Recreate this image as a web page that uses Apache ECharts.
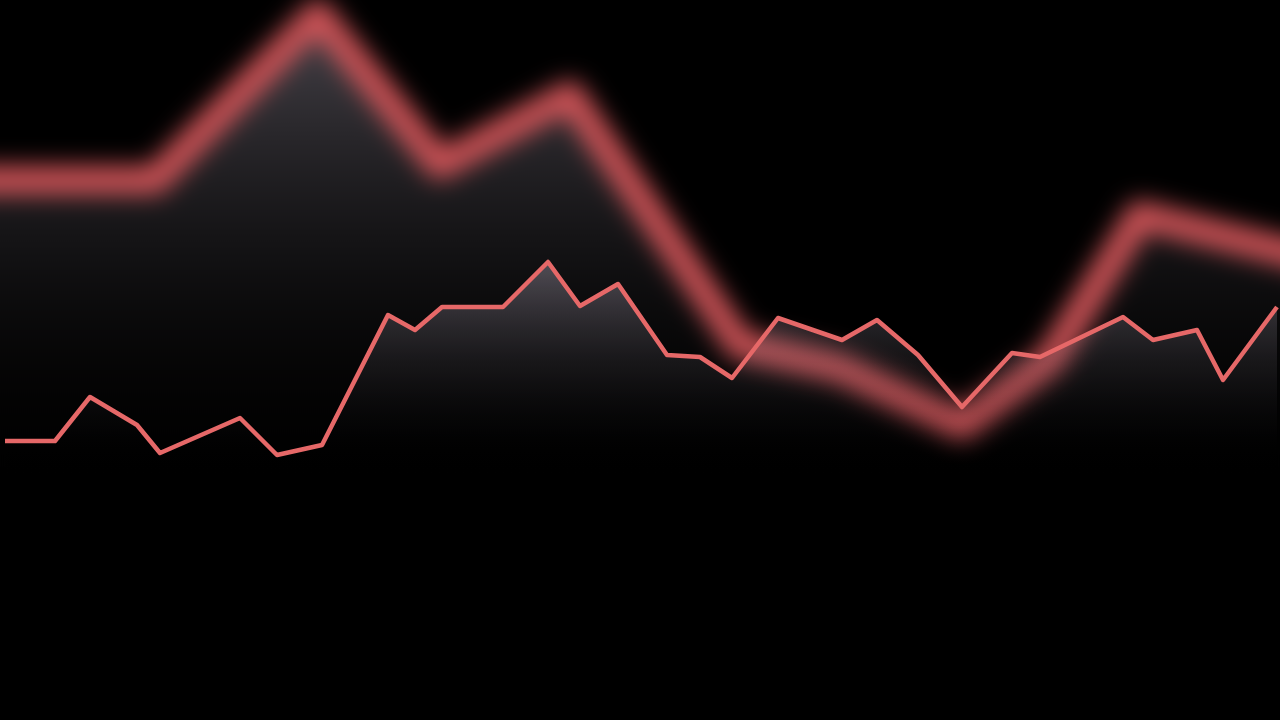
<!DOCTYPE html>
<html>
<head>
<meta charset="utf-8">
<script src="https://cdn.jsdelivr.net/npm/echarts@6/dist/echarts.min.js"></script>
<style>
  html, body { margin: 0; padding: 0; background: #000; width: 1280px; height: 720px; overflow: hidden; }
  #glow { position: absolute; left: -60px; top: -60px; width: 1400px; height: 840px; filter: blur(12px); }
  #main { position: absolute; left: 0; top: 0; width: 1280px; height: 720px; }
</style>
</head>
<body>
<div id="glow"></div>
<div id="main"></div>
<script>
// Thin line series (x position, value)
const thinX = [5, 55, 90, 137, 160, 240, 277, 322, 388, 415, 442, 503, 548, 580, 618, 667, 700, 732, 778, 842, 877, 918, 962, 1012, 1040, 1123, 1153, 1197, 1223, 1277];
const thinY = [59, 59, 103, 75, 47, 82, 45, 55, 185, 170, 193, 193, 238, 194, 216, 145, 143, 122, 182, 160, 180, 145, 93, 147, 143, 183, 160, 170, 120, 193];
// Thick glowing series
const glowX = [-60, 155, 318, 440, 570, 740, 840, 962, 1050, 1140, 1280, 1340];
const glowY = [320, 320, 486, 335, 405, 155, 132, 75, 140, 285, 250, 236];

const zip = (xs, ys) => xs.map((x, i) => [x, ys[i]]);

const glowChart = echarts.init(document.getElementById('glow'), null, { renderer: 'canvas' });
glowChart.setOption({
  animation: false,
  backgroundColor: 'transparent',
  grid: { left: 0, right: 0, top: 60, bottom: 280 },
  xAxis: { type: 'value', min: -60, max: 1340, show: false },
  yAxis: { type: 'value', min: 0, max: 500, show: false },
  series: [{
    type: 'line',
    data: zip(glowX, glowY),
    symbol: 'none',
    clip: false,
    lineStyle: { color: '#d05458', width: 28, join: 'round', cap: 'round' },
    areaStyle: {
      color: new echarts.graphic.LinearGradient(0, 0, 0, 1, [
        { offset: 0, color: 'rgba(205,195,215,0.5)' },
        { offset: 1, color: 'rgba(0,0,0,0)' }
      ])
    }
  }]
});

const chart = echarts.init(document.getElementById('main'), null, { renderer: 'canvas' });
chart.setOption({
  animation: false,
  backgroundColor: 'transparent',
  grid: { left: 0, right: 0, top: 0, bottom: 220 },
  xAxis: { type: 'value', min: 0, max: 1280, show: false },
  yAxis: { type: 'value', min: 0, max: 500, show: false },
  series: [{
    type: 'line',
    data: zip(thinX, thinY),
    symbol: 'none',
    lineStyle: { color: '#e66868', width: 4.5, join: 'round' },
    areaStyle: {
      color: new echarts.graphic.LinearGradient(0, 0, 0, 1, [
        { offset: 0, color: 'rgba(200,190,210,0.5)' },
        { offset: 0.9, color: 'rgba(0,0,0,0)' }
      ])
    }
  }]
});
</script>
</body>
</html>
